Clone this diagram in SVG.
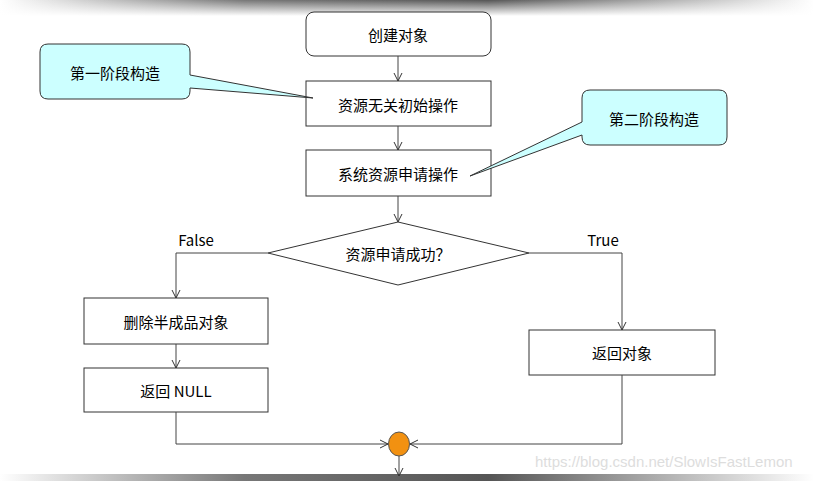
<svg xmlns="http://www.w3.org/2000/svg" width="814" height="481" viewBox="0 0 814 481">
<defs>
<linearGradient id="bar" x1="0" x2="1" y1="0" y2="0">
<stop offset="0" stop-color="#fff"/><stop offset="0.3" stop-color="#777"/><stop offset="0.6" stop-color="#555"/><stop offset="1" stop-color="#fff"/>
</linearGradient>
<linearGradient id="barv" x1="0" x2="0" y1="0" y2="1">
<stop offset="0" stop-color="#fff" stop-opacity="0"/><stop offset="1" stop-color="#fff" stop-opacity="1"/>
</linearGradient>
<marker id="ar" markerWidth="10" markerHeight="10" refX="9" refY="5" orient="auto" markerUnits="userSpaceOnUse">
<path d="M1,1 L9,5 L1,9" fill="none" stroke="#333" stroke-width="1"/>
</marker>
</defs>
<style>
.box{fill:#fff;stroke:#333;stroke-width:1}
.call{fill:#ccffff;stroke:#333;stroke-width:1}
.t{font-family:"Noto Sans CJK SC","Liberation Sans",sans-serif;font-size:15px;fill:#000;text-anchor:middle;dominant-baseline:central}
.c{fill:none;stroke:#444;stroke-width:1}
</style>
<rect width="814" height="481" fill="#fff"/>
<rect x="0" y="0" width="814" height="16" fill="url(#bar)"/>
<rect x="0" y="0" width="814" height="16" fill="url(#barv)"/>
<rect x="0" y="474" width="814" height="7" fill="url(#bar)"/>
<g id="n1"><rect class="box" x="306" y="12" width="185" height="44" rx="8"/><text class="t" x="398" y="34">创建对象</text></g>
<g id="n2"><rect class="box" x="306" y="81" width="185" height="45"/><text class="t" x="398" y="104">资源无关初始操作</text></g>
<g id="n3"><rect class="box" x="306" y="150" width="185" height="46"/><text class="t" x="398" y="173">系统资源申请操作</text></g>
<g id="n4"><polygon class="box" points="398,222 529,253 398,285 268,253"/><text class="t" x="398" y="253">资源申请成功？</text></g>
<g id="n5"><rect class="box" x="84" y="298" width="184" height="46"/><text class="t" x="176" y="321">删除半成品对象</text></g>
<g id="n6"><rect class="box" x="84" y="368" width="184" height="44"/><text class="t" x="176" y="390">返回 NULL</text></g>
<g id="n7"><rect class="box" x="529" y="330" width="186" height="45"/><text class="t" x="622" y="352">返回对象</text></g>
<g id="n8"><ellipse cx="399" cy="444" rx="10.5" ry="12" fill="#f29111" stroke="#555"/></g>
<g id="call1"><path class="call" d="M48,44 H182 Q190,44 190,52 V75 L313,98 L190,88 V91 Q190,99 182,99 H48 Q40,99 40,91 V52 Q40,44 48,44 Z"/><text class="t" x="115" y="72">第一阶段构造</text></g>
<g id="call2"><path class="call" d="M590,90 H719 Q727,90 727,98 V137 Q727,145 719,145 H590 Q582,145 582,137 V135 L470,176 L582,122 V98 Q582,90 590,90 Z"/><text class="t" x="654" y="118">第二阶段构造</text></g>
<g id="edges">
<path class="c" d="M398,56 V81" marker-end="url(#ar)"/>
<path class="c" d="M398,126 V150" marker-end="url(#ar)"/>
<path class="c" d="M398,196 V222" marker-end="url(#ar)"/>
<path class="c" d="M268,253 H176 V298" marker-end="url(#ar)"/>
<path class="c" d="M529,253 H622 V330" marker-end="url(#ar)"/>
<path class="c" d="M176,344 V368" marker-end="url(#ar)"/>
<path class="c" d="M176,412 V444 H388" marker-end="url(#ar)"/>
<path class="c" d="M622,375 V444 H410" marker-end="url(#ar)"/>
<path class="c" d="M399,456 V476" marker-end="url(#ar)"/>
<text class="t" x="196" y="239">False</text>
<text class="t" x="603" y="239">True</text>
</g>
<text x="535" y="467" font-family="Liberation Sans, sans-serif" font-size="15" fill="#ddd">https://blog.csdn.net/SlowIsFastLemon</text>
</svg>
